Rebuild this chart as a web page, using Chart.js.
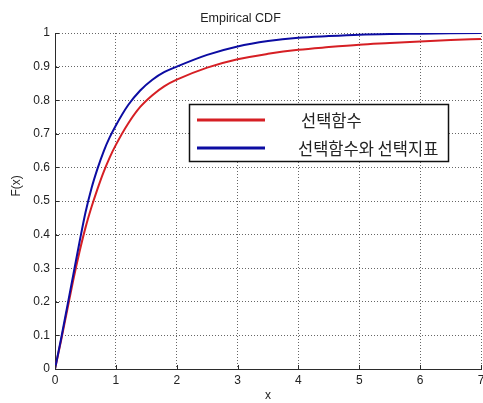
<!DOCTYPE html>
<html>
<head>
<meta charset="utf-8">
<title>Empirical CDF</title>
<script src="https://cdn.jsdelivr.net/npm/chart.js@4/dist/chart.umd.min.js"></script>
<style>
  html, body { margin: 0; padding: 0; background: #ffffff; }
  #wrap { width: 483px; height: 403px; }
</style>
</head>
<body>
<div id="wrap"><canvas id="cdf" width="483" height="403"></canvas></div>
<script>
// Sample points along x where both empirical CDFs are evaluated
const xs = [0, 0.1, 0.2, 0.3, 0.4, 0.5, 0.6, 0.7, 0.8, 0.9, 1.0, 1.2, 1.4, 1.6, 1.8,
            2.0, 2.5, 3.0, 3.5, 4.0, 4.5, 5.0, 5.5, 6.0, 6.5, 7.0];

// F(x) for the selection function alone
const selectFn = [0, 0.085, 0.175, 0.265, 0.347, 0.42, 0.482, 0.537, 0.587, 0.63, 0.667, 0.73, 0.78, 0.815, 0.842,
                  0.861, 0.897, 0.922, 0.938, 0.950, 0.958, 0.965, 0.970, 0.975, 0.979, 0.982];

// F(x) for the selection function together with the selection index
const selectFnIdx = [0, 0.09, 0.185, 0.28, 0.375, 0.465, 0.538, 0.597, 0.648, 0.69, 0.725, 0.785, 0.829, 0.861, 0.884,
                     0.90, 0.935, 0.96, 0.976, 0.986, 0.991, 0.995, 0.997, 0.998, 0.999, 1.0];

const seriesNames = ['선택함수', '선택함수와 선택지표'];

const xTicks = [0, 1, 2, 3, 4, 5, 6, 7];
const xTickLabels = ['0', '1', '2', '3', '4', '5', '6', '7'];
const yTicks = [0, 0.1, 0.2, 0.3, 0.4, 0.5, 0.6, 0.7, 0.8, 0.9, 1];
const yTickLabels = ['0', '0.1', '0.2', '0.3', '0.4', '0.5', '0.6', '0.7', '0.8', '0.9', '1'];

const titleText = 'Empirical CDF';
const xTitle = 'x';
const yTitle = 'F(x)';

const TEXT = '#222222';
const AXIS = '#2b2b2b';
const tickFont = { family: '"Liberation Sans", Arial, sans-serif', size: 12 };

const toPoints = vals => xs.map((x, i) => ({ x: x, y: vals[i] }));

// Small inward tick marks on the left and bottom axes
const innerTicks = {
  id: 'innerTicks',
  afterDraw(chart) {
    const { ctx, chartArea: a, scales } = chart;
    ctx.save();
    ctx.strokeStyle = AXIS;
    ctx.lineWidth = 1;
    ctx.beginPath();
    scales.x.ticks.forEach(t => {
      const px = Math.round(scales.x.getPixelForValue(t.value)) + 0.5;
      ctx.moveTo(px, a.bottom);
      ctx.lineTo(px, a.bottom - 4);
    });
    scales.y.ticks.forEach(t => {
      const py = Math.round(scales.y.getPixelForValue(t.value)) + 0.5;
      ctx.moveTo(a.left, py);
      ctx.lineTo(a.left + 4, py);
    });
    ctx.stroke();
    ctx.restore();
  }
};

// Vertical y-axis title
const yAxisTitle = {
  id: 'yAxisTitle',
  afterDraw(chart) {
    const { ctx, scales } = chart;
    ctx.save();
    ctx.translate(17, scales.y.getPixelForValue(0.545));
    ctx.rotate(-Math.PI / 2);
    ctx.fillStyle = TEXT;
    ctx.font = '12px "Liberation Sans", Arial, sans-serif';
    ctx.textAlign = 'center';
    ctx.textBaseline = 'middle';
    ctx.fillText(yTitle, 0, 0);
    ctx.restore();
  }
};

// Boxed legend placed inside the plot area
const boxLegend = {
  id: 'boxLegend',
  afterDatasetsDraw(chart) {
    const { ctx, chartArea: a } = chart;
    const bx = a.left + 134, by = a.top + 71, bw = 259, bh = 57;
    ctx.save();
    ctx.fillStyle = '#ffffff';
    ctx.fillRect(bx, by, bw, bh);
    ctx.strokeStyle = '#111111';
    ctx.lineWidth = 1.5;
    ctx.strokeRect(bx + 0.5, by + 0.5, bw, bh);
    const rows = [
      { y: by + 16, textX: bx + 112 },
      { y: by + 44, textX: bx + 109 }
    ];
    chart.data.datasets.forEach((ds, i) => {
      const r = rows[i];
      ctx.strokeStyle = ds.borderColor;
      ctx.lineWidth = 3;
      ctx.beginPath();
      ctx.moveTo(bx + 8, r.y);
      ctx.lineTo(bx + 76, r.y);
      ctx.stroke();
      ctx.fillStyle = TEXT;
      ctx.font = '16.5px "Noto Sans CJK KR", sans-serif';
      ctx.textAlign = 'left';
      ctx.textBaseline = 'middle';
      ctx.fillText(ds.label, r.textX, r.y + 1);
    });
    ctx.restore();
  }
};

new Chart(document.getElementById('cdf'), {
  type: 'line',
  data: {
    datasets: [
      {
        label: seriesNames[0],
        data: toPoints(selectFn),
        borderColor: '#d61f24',
        borderWidth: 2,
        pointRadius: 0,
        cubicInterpolationMode: 'monotone',
        order: 2
      },
      {
        label: seriesNames[1],
        data: toPoints(selectFnIdx),
        borderColor: '#0c0ca2',
        borderWidth: 2,
        pointRadius: 0,
        cubicInterpolationMode: 'monotone',
        order: 1
      }
    ]
  },
  options: {
    responsive: false,
    animation: false,
    devicePixelRatio: 1,
    layout: { padding: { left: 0, right: 2, top: 0, bottom: 0 } },
    plugins: {
      legend: { display: false },
      tooltip: { enabled: false },
      title: {
        display: true,
        text: titleText,
        color: TEXT,
        font: { family: '"Liberation Sans", Arial, sans-serif', size: 12.5, weight: 'normal' },
        padding: { top: 11, bottom: 7 }
      }
    },
    scales: {
      x: {
        type: 'linear',
        min: 0,
        max: 7,
        afterBuildTicks: s => { s.ticks = xTicks.map(v => ({ value: v })); },
        afterFit: s => { s.height = 34; s.paddingLeft = 0; s.paddingRight = 0; },
        ticks: {
          color: TEXT,
          font: tickFont,
          padding: 4,
          maxRotation: 0,
          autoSkip: false,
          callback: (v, i) => xTickLabels[i]
        },
        grid: { color: 'rgba(0,0,0,0.6)', lineWidth: 1, drawTicks: false },
        border: { display: true, color: AXIS, width: 1, dash: [1, 2] },
        title: {
          display: true,
          text: xTitle,
          color: TEXT,
          font: tickFont,
          padding: { top: 0, bottom: 0 }
        }
      },
      y: {
        type: 'linear',
        min: 0,
        max: 1,
        afterBuildTicks: s => { s.ticks = yTicks.map(v => ({ value: v })); },
        afterFit: s => { s.width = 55; s.paddingTop = 0; s.paddingBottom = 0; },
        ticks: {
          color: TEXT,
          font: tickFont,
          padding: 5,
          autoSkip: false,
          callback: (v, i) => yTickLabels[i]
        },
        grid: { color: 'rgba(0,0,0,0.6)', lineWidth: 1, drawTicks: false },
        border: { display: true, color: AXIS, width: 1, dash: [1, 2] }
      }
    }
  },
  plugins: [innerTicks, yAxisTitle, boxLegend]
});
</script>
</body>
</html>
